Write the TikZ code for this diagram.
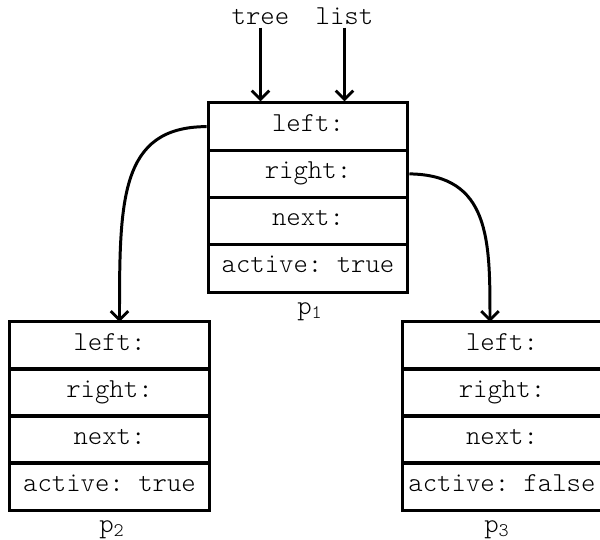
\documentclass[tikz,border=0pt]{standalone}
\usepackage{fontspec}
\setmonofont{Latin Modern Mono Light}
\usetikzlibrary{arrows.meta}
\begin{document}
\begin{tikzpicture}[x=0.02cm,y=-0.02cm,
  txt/.style={font=\ttfamily\fontsize{15.6}{18}\selectfont},
  field/.style={txt,draw,line width=1.7pt,minimum width=4cm,minimum height=0.945cm,
    inner sep=0pt,text height=1.5ex,text depth=0.3ex},
  lbl/.style={txt,inner sep=0pt},
  ptr/.style={line width=1.7pt,-{Straight Barb[length=5pt,width=10pt,line width=1.7pt]}}]
\useasboundingbox (0,0) rectangle (600,540);

% record p1
\node[field] (p1l) at (308,126.6) {left:};
\node[field] (p1r) at (308,173.9) {right:};
\node[field] (p1n) at (308,221.1) {next:};
\node[field] (p1a) at (308,268.4) {active: true};
\node[lbl] (p1) at (310,312) {p\textsubscript{1}};

% record p2
\node[field] (p2l) at (109.5,345.5) {left:};
\node[field] (p2r) at (109.5,392.5) {right:};
\node[field] (p2n) at (109.5,439.5) {next:};
\node[field] (p2a) at (109.5,486.5) {active: true};
\node[lbl] (p2) at (112,530) {p\textsubscript{2}};

% record p3
\node[field] (p3l) at (502,345.5) {left:};
\node[field] (p3r) at (502,392.5) {right:};
\node[field] (p3n) at (502,439.5) {next:};
\node[field] (p3a) at (502,486.5) {active: false};
\node[lbl] (p3) at (497,530) {p\textsubscript{3}};

% roots
\node[lbl,anchor=base] (tree) at (260.5,25) {tree};
\node[lbl,anchor=base] (list) at (344.5,25) {list};
\draw[ptr] (tree.south) ++(0,2) coordinate (t0) (t0) -- (t0 |- p1l.north);
\draw[ptr] (list.south) ++(0,2) coordinate (l0) (l0) -- (l0 |- p1l.north);

% child pointers
\coordinate (lt) at (119.5,322);
\coordinate (rt) at (490,322);
\draw[ptr] (p1l.west) .. controls (119.5,127) and (119.5,200) .. (lt);
\draw[ptr] (p1r.east) .. controls (490,175) and (490,240) .. (rt);
\end{tikzpicture}
\end{document}
